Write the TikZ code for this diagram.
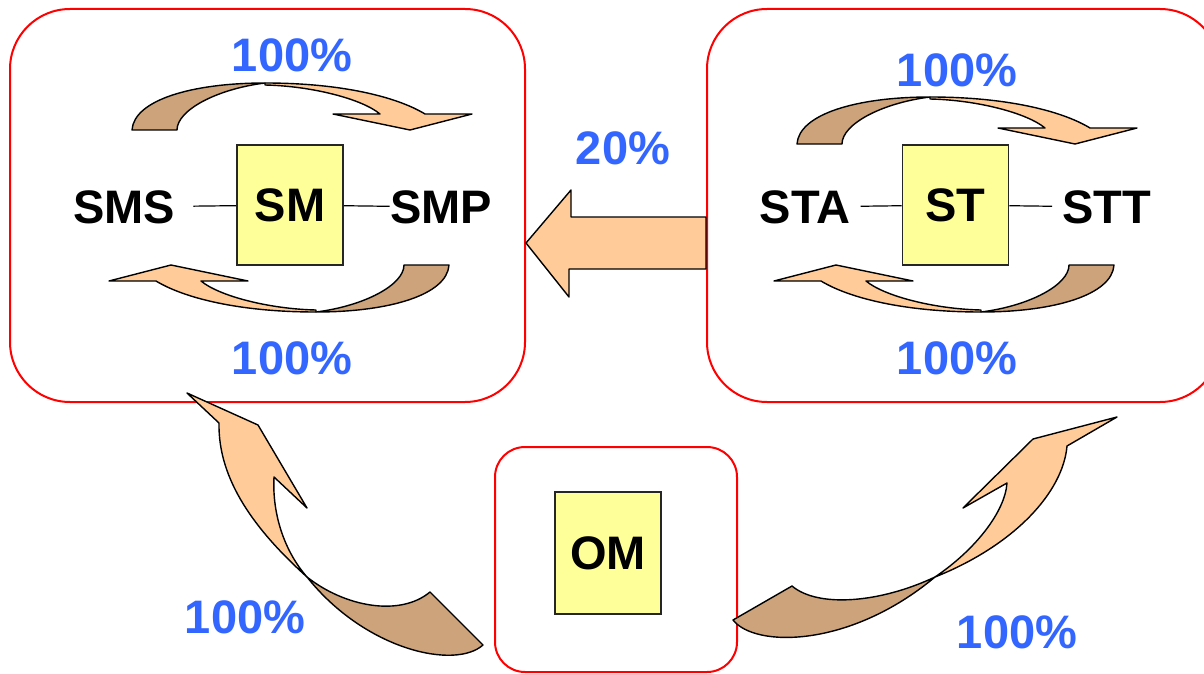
\documentclass[tikz,border=0pt]{standalone}
\usepackage{fontspec}
\setmainfont{Liberation Sans}
\usepackage{tikz}

\definecolor{peach}{RGB}{255,204,153}
\definecolor{ribbondark}{RGB}{204,163,122}
\definecolor{pctblue}{RGB}{51,102,255}
\definecolor{unityellow}{RGB}{255,255,153}

\tikzset{
	twistarc/.pic={
		% back face
		\draw[twist, fill=ribbondark] (0,0) .. controls (2,-30) and (60,-47) .. (133,-47)
			.. controls (85,-41) and (45,-20) .. (45,0) -- cycle;
		% front face with head
		\draw[twist, fill=peach] (133,-47) .. controls (210,-47) and (265,-33) .. (293,-16)
			-- (340,-16) -- (278,0) -- (201,-16) -- (248,-16)
			.. controls (230,-31) and (180,-44) .. (133,-45) -- cycle;
	}
}

\begin{document}
\begin{tikzpicture}[x=0.5pt, y=-0.5pt,
		group/.style={draw=red, line width=1pt, rounded corners=30pt},
		unit/.style={draw=black!85, line width=0.9pt, fill=unityellow, minimum width=53pt, minimum height=60pt, inner sep=0pt, font=\bfseries\fontsize{23.5}{28}\selectfont},
		tag/.style={inner sep=0pt, font=\bfseries\fontsize{23.5}{28}\selectfont},
		pct/.style={inner sep=0pt, text=pctblue, font=\bfseries\fontsize{23.5}{28}\selectfont},
		twist/.style={draw=black, line width=0.7pt, line join=round},
		link/.style={line width=0.6pt}
		]
		\useasboundingbox (0,0) rectangle (1204,674);
		
		% Groups
		\node[group, minimum width=257.5pt, minimum height=196.5pt] (leftgrp) at (267.5,205.5) {};
		\node[group, minimum width=256.5pt, minimum height=196.5pt] (rightgrp) at (963.5,205.5) {};
		\node[group, rounded corners=15pt, minimum width=121pt, minimum height=112.5pt] (omgrp) at (616,559.5) {};
		
		% Nodes
		\node[unit] (sm) at (290,205) {SM};
		\node[unit] (st) at (955.5,205) {ST};
		\node[unit, minimum height=61pt] (om) at (608,553) {OM};
		\node[tag] (sms) at (124,207) {SMS};
		\node[tag] (smp) at (441,207) {SMP};
		\node[tag] (sta) at (805,207) {STA};
		\node[tag] (stt) at (1107,207) {STT};
		
		% Links
		\draw[link, shorten <=9pt] (sms) -- (sm);
		\draw[link] (sm) -- (smp);
		\draw[link, shorten <=5pt] (sta) -- (st);
		\draw[link, shorten >=5pt] (st) -- (stt);
		
		% Arrows
		\pic at (132,130) {twistarc};
		\pic[rotate=180] at (449,265) {twistarc};
		\pic at (797,144) {twistarc};
		\pic[rotate=180] at (1114,265) {twistarc};
		
		\draw[twist, fill=peach] ([yshift=-18.75pt]leftgrp.east) -- ++(45,-53) -- ++(0,27)
			-- ([yshift=-5.75pt]rightgrp.west) -- ([yshift=-31.75pt]rightgrp.west)
			-- ++(-137,0) -- ++(0,28) -- cycle;
		
		\draw[twist, fill=peach] (187,393) -- (258,425) -- (307,508) -- (274,477)
			.. controls (272,515) and (285,552) .. (307,577)
			.. controls (255,530) and (218,480) .. (219,423) -- cycle;
		\draw[twist, fill=ribbondark] (307,577) .. controls (345,607) and (400,617) .. (430,592)
			-- (483,645) .. controls (455,670) and (365,650) .. (307,577) -- cycle;
		
		\draw[twist, fill=peach] (1117,417) -- (1067,446)
			.. controls (1063,492) and (1015,545) .. (935,577)
			.. controls (975,550) and (1005,512) .. (1007,483) -- (963,508) -- (1033,439) -- cycle;
		\draw[twist, fill=ribbondark] (935,577) .. controls (880,603) and (818,608) .. (792,586)
			-- (733,620) .. controls (755,648) and (850,648) .. (935,577) -- cycle;
		
		% Labels
		\node[pct] (smtop) at (292,55) {100\%};
		\node[pct] (smbot) at (292,358) {100\%};
		\node[pct] (sttop) at (957,70) {100\%};
		\node[pct] (stbot) at (957,358) {100\%};
		\node[pct] (share) at (623,148) {20\%};
		\node[pct] (omleft) at (245,617) {100\%};
		\node[pct] (omright) at (1017,632) {100\%};
		
	\end{tikzpicture}
\end{document}
